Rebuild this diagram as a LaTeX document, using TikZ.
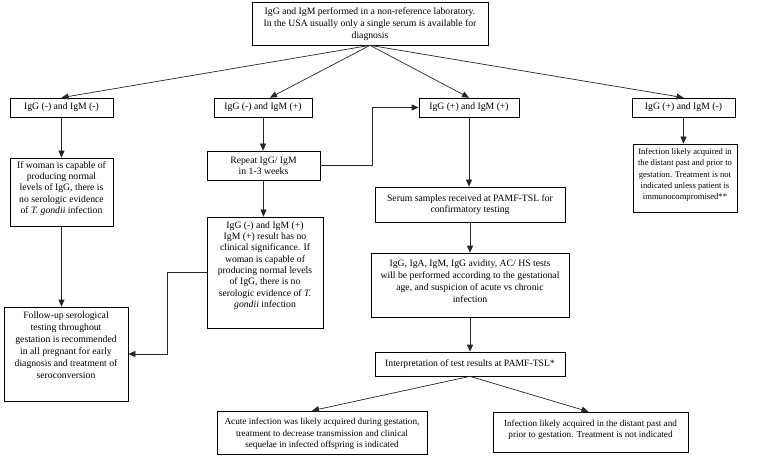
\documentclass[tikz,border=0pt]{standalone}
\usepackage{fontspec}
\setmainfont{Liberation Serif}
\usetikzlibrary{arrows.meta}
\tikzset{
  box/.style={draw=black, line width=0.7pt, inner sep=0pt, fill=white},
  txt/.style={align=center, inner sep=0pt, font=\fontsize{9.7pt}{11.3pt}\selectfont},
  loose/.style={font=\fontsize{9.7pt}{12.1pt}\selectfont},
  small/.style={font=\fontsize{8.6pt}{11.3pt}\selectfont},
  mid/.style={font=\fontsize{9.2pt}{11.3pt}\selectfont},
  arr/.style={-{Triangle[length=7pt,width=6pt]}, line width=0.7pt, draw=black!85},
}
\begin{document}
\begin{tikzpicture}[x=1pt,y=-1pt]
\fill[white] (0,0) rectangle (760,457);
\useasboundingbox (0,0) rectangle (760,457);

% boxes
\node[box, minimum width=236pt, minimum height=43pt] (top) at (370,23.5) {};
\node[txt, loose] (topt) at (370,24) {IgG and IgM performed in a non-reference laboratory.\\In the USA usually only a single serum is available for\\diagnosis};

\node[box, minimum width=103pt, minimum height=19pt] (b1) at (61.5,107.5) {};
\node[txt] (b1t) at (b1.center) {IgG (-) and IgM (-)};
\node[box, minimum width=98pt, minimum height=19pt] (b2) at (263,107.5) {};
\node[txt] (b2t) at (b2.center) {IgG (-) and IgM (+)};
\node[box, minimum width=100pt, minimum height=19pt] (b3) at (469,107.5) {};
\node[txt] (b3t) at (b3.center) {IgG (+) and IgM (+)};
\node[box, minimum width=103pt, minimum height=19pt] (b4) at (683.5,107.5) {};
\node[txt] (b4t) at (b4.center) {IgG (+) and IgM (-)};

\node[box, minimum width=103pt, minimum height=68pt] (c1) at (61.5,192) {};
\node[txt] (c1t) at (61.5,188.5) {If woman is capable of\\producing normal\\levels of IgG, there is\\no serologic evidence\\of \textit{T. gondii} infection};

\node[box, minimum width=124pt, minimum height=94pt] (d1) at (66,354) {};
\node[txt, loose] (d1t) at (66,345) {Follow-up serological\\testing throughout\\gestation is recommended\\in all pregnant for early\\diagnosis and treatment of\\seroconversion};

\node[box, minimum width=113pt, minimum height=29pt] (rep) at (263.5,165.5) {};
\node[txt] (rept) at (rep.center) {Repeat IgG/ IgM\\in 1-3 weeks};

\node[box, minimum width=116pt, minimum height=111pt] (c2b) at (265,272.5) {};
\node[txt] (c2bt) at (265,265.5) {IgG (-) and IgM (+)\\IgM (+) result has no\\clinical significance. If\\woman is capable of\\producing normal levels\\of IgG, there is no\\serologic evidence of \textit{T.}\\\textit{gondii} infection};

\node[box, minimum width=190pt, minimum height=35pt] (serum) at (470,204.5) {};
\node[txt] (serumt) at (serum.center) {Serum samples received at PAMF-TSL for\\confirmatory testing};

\node[box, minimum width=198pt, minimum height=64pt] (igg) at (470,285) {};
\node[txt, loose] (iggt) at (470,281) {IgG, IgA, IgM, IgG avidity, AC/ HS tests\\will be performed according to the gestational\\age, and suspicion of acute vs chronic\\infection};

\node[box, minimum width=190pt, minimum height=24pt] (interp) at (470,364) {};
\node[txt] (interpt) at (interp.center) {Interpretation of test results at PAMF-TSL*};

\node[box, minimum width=210pt, minimum height=43pt] (bl) at (322,432.5) {};
\node[txt, mid] (blt) at (322,434) {Acute infection was likely acquired during gestation,\\treatment to decrease transmission and clinical\\sequelae in infected offspring is indicated};

\node[box, minimum width=195pt, minimum height=40pt] (br) at (590.5,432) {};
\node[txt, mid] (brt) at (590.5,430) {Infection likely acquired in the distant past and\\prior to gestation. Treatment is not indicated};

\node[box, minimum width=104pt, minimum height=68pt] (e4) at (685,178) {};
\node[txt, small] (e4t) at (685,175) {Infection likely acquired in\\the distant past and prior to\\gestation. Treatment is not\\indicated unless patient is\\immunocompromised**};

% junction coordinates
\coordinate (j1) at (372,0);
\coordinate (j2) at (167,0);

% connectors
\draw[arr] (top.south) -- (b1.north);
\draw[arr] (top.south) -- ([xshift=7pt]b2.north);
\draw[arr] (top.south) -- (b3.north);
\draw[arr] (top.south) -- (b4.north);

\draw[arr] (b1.south) -- (b1.south |- c1.north);
\draw[arr] (c1.south) -- (c1.south |- d1.north);

\draw[arr] (b2.south) -- (b2.south |- rep.north);
\draw[arr] (rep.south) -- (rep.south |- c2b.north);
\draw[arr] (rep.east) -- (rep.east -| j1) -- (j1 |- b3.west) -- (b3.west);
\draw[arr] (c2b.west) -- (c2b.west -| j2) -- (j2 |- d1.east) -- (d1.east);

\draw[arr] (b3.south) -- (b3.south |- serum.north);
\draw[arr] (serum.south) -- (serum.south |- igg.north);
\draw[arr] (igg.south) -- (igg.south |- interp.north);
\draw[arr] (interp.south) -- ([xshift=-10pt]bl.north);
\draw[arr] (interp.south) -- ([xshift=-2pt]br.north);

\draw[arr] (b4.south) -- (b4.south |- e4.north);
\end{tikzpicture}
\end{document}
